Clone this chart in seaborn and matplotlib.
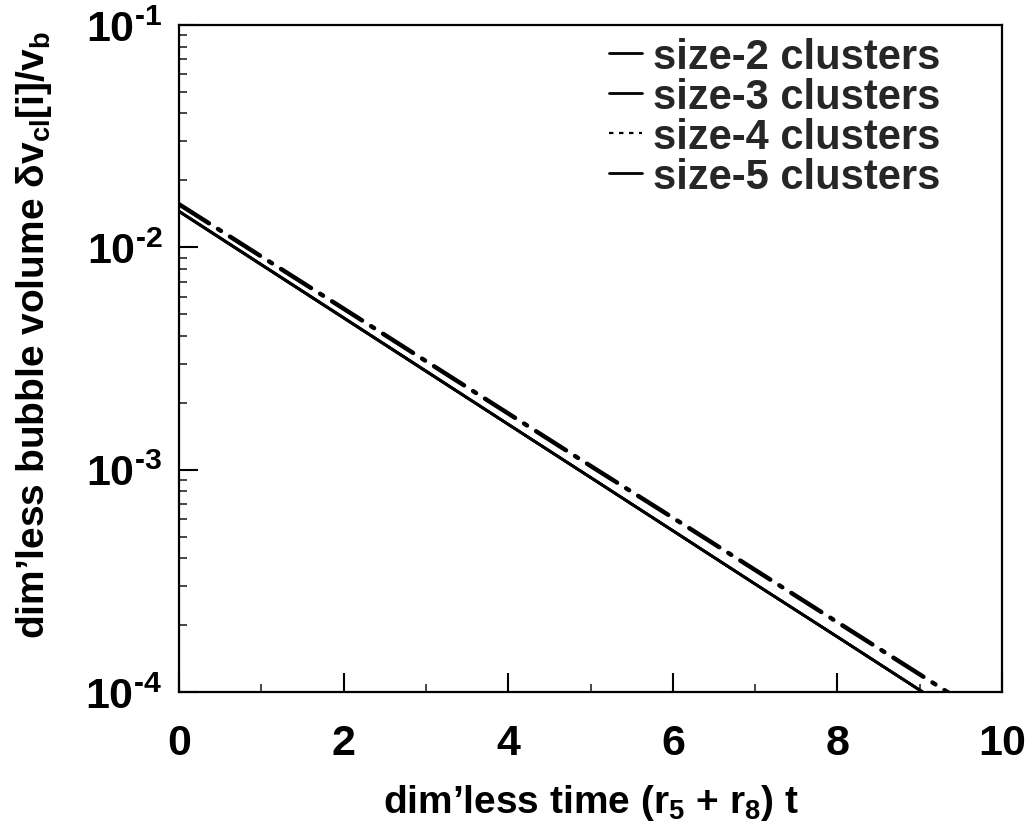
import numpy as np
import pandas as pd
import matplotlib
matplotlib.use('Agg')
import matplotlib.pyplot as plt
import seaborn as sns
from matplotlib.lines import Line2D
from matplotlib.ticker import LogLocator, FixedLocator, FuncFormatter

# data
t = [0, 1, 2, 3, 4, 5, 6, 7, 8, 9, 10]
size2 = [0.01452, 0.00836, 0.00482, 0.00278, 0.00160, 0.000923, 0.000532, 0.000306, 0.000177, 0.000102, 5.86e-5]
size3 = [0.01455, 0.00838, 0.00483, 0.00278, 0.00160, 0.000924, 0.000532, 0.000306, 0.000177, 0.000102, 5.86e-5]
size4 = [0.01563, 0.00910, 0.00530, 0.00308, 0.00179, 0.00104, 0.000608, 0.000354, 0.000206, 0.000120, 6.98e-5]
size5 = [0.01450, 0.00835, 0.00481, 0.00277, 0.00160, 0.000922, 0.000531, 0.000306, 0.000177, 0.000102, 5.86e-5]
labels = ['size-2 clusters', 'size-3 clusters', 'size-4 clusters', 'size-5 clusters']
xticks = [0, 2, 4, 6, 8, 10]

sns.set_theme(style='white')
plt.rcParams['font.family'] = ['Liberation Sans', 'DejaVu Sans']
plt.rcParams['font.weight'] = 'bold'
plt.rcParams['mathtext.fontset'] = 'custom'
plt.rcParams['mathtext.rm'] = 'Liberation Sans:bold'
plt.rcParams['mathtext.it'] = 'Liberation Sans:bold'
plt.rcParams['mathtext.bf'] = 'Liberation Sans:bold'

fig = plt.figure(figsize=(10.32, 8.28), dpi=100)
ax = fig.add_axes([0.1734, 0.163, 0.7976, 0.8056])

series = [size2, size3, size4, size5]
for lab, vals in zip(labels, series):
    df = pd.DataFrame({'t': t, 'v': vals})
    if lab == 'size-4 clusters':
        sns.lineplot(data=df, x='t', y='v', ax=ax, color='black', lw=3.2, zorder=3)
        ax.lines[-1].set_dashes((8, 2.4, 0.8, 2.4))
        ax.lines[-1].set_dash_capstyle('round')
    else:
        sns.lineplot(data=df, x='t', y='v', ax=ax, color='black', lw=2.0, zorder=3)

ax.set_yscale('log')
ax.set_xlim(0, 10)
ax.set_ylim(1e-4, 1e-1)
ax.set_xticks(xticks)
ax.xaxis.set_minor_locator(FixedLocator([1, 3, 5, 7, 9]))
ax.yaxis.set_major_locator(LogLocator(base=10, numticks=10))
ax.yaxis.set_minor_locator(LogLocator(base=10, subs=np.arange(2, 10), numticks=10))
ax.yaxis.set_major_formatter(FuncFormatter(
    lambda v, p: '10$^{\\text{-%d}}$' % round(-np.log10(v))))

ax.tick_params(axis='both', which='major', direction='in', length=14, width=1.5,
               labelsize=31, colors='black')
ax.tick_params(axis='both', which='minor', direction='in', length=6, width=1.2)
ax.tick_params(axis='x', which='both', bottom=True, top=False)
ax.tick_params(axis='y', which='both', left=True, right=False)
ax.tick_params(axis='x', which='major', pad=22)
ax.tick_params(axis='y', which='major', pad=12)
for s in ax.spines.values():
    s.set_color('black')
    s.set_linewidth(1.6)

ax.set_xlabel('dim\u2019less time (r$_{5}$ + r$_{8}$) t', fontsize=28, fontweight='bold',
              color='black', labelpad=14)
ax.set_ylabel('dim\u2019less bubble volume \u03b4v$_{\\mathrm{cl}}$[i]/v$_{\\mathrm{b}}$',
              fontsize=28, fontweight='bold', color='black')
ax.yaxis.set_label_coords(-0.152, 0.537)

handles = [Line2D([], [], color='black', lw=2.0),
           Line2D([], [], color='black', lw=2.0),
           Line2D([], [], color='black', lw=1.6, dashes=(2, 2.5)),
           Line2D([], [], color='black', lw=2.0)]
ax.legend(handles, labels, loc='upper right', bbox_to_anchor=(0.955, 1.02), frameon=False,
          handlelength=0.8, handletextpad=0.25, labelspacing=0.0,
          borderaxespad=0.2, prop={'weight': 'bold', 'size': 30})

fig.savefig('out.png', dpi=100, facecolor='white')
